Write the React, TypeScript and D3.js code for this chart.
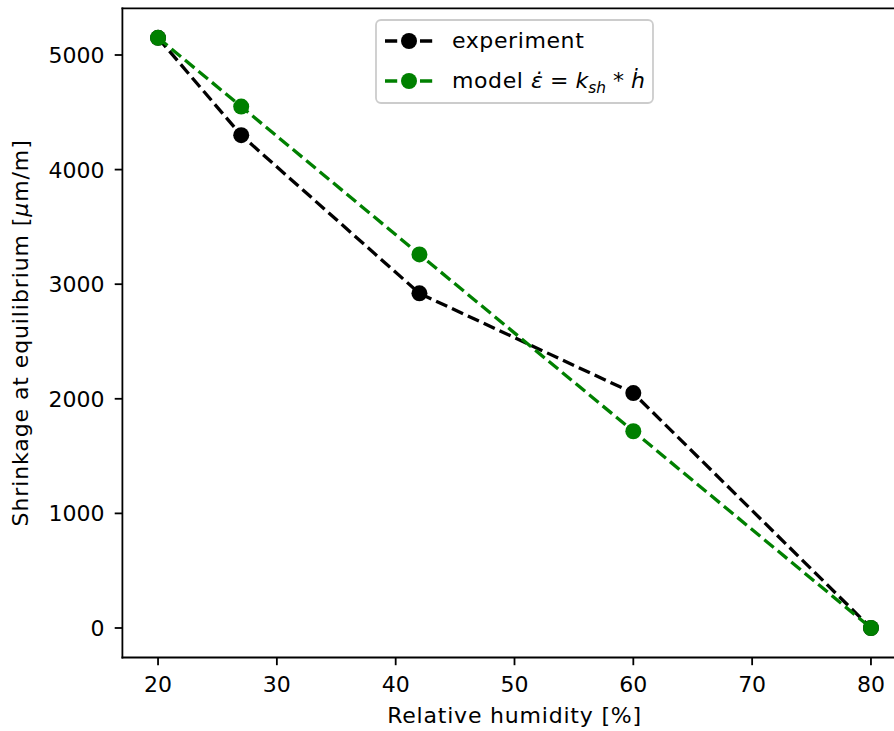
import React from "react";
import * as d3 from "d3";

const humidity = [20, 27, 42, 60, 80];
const experiment = [5150, 4300, 2920, 2050, 0];
const model = [5150, 4550, 3260, 1717, 0];
const xTicks = [20, 30, 40, 50, 60, 70, 80];
const yTicks = [0, 1000, 2000, 3000, 4000, 5000];

const W = 894;
const H = 731;
const FONT = "'DejaVu Sans', sans-serif";
const FS = 22;

export default function App() {
  const x = d3.scaleLinear().domain([17, 83]).range([122.4, 906.6]);
  const y = d3.scaleLinear().domain([-257.5, 5407.5]).range([657.5, 8.3]);
  const left = 122.4;
  const right = 906.6;
  const top = 8.3;
  const bottom = 657.5;

  const line = d3
    .line<[number, number]>()
    .x((d) => x(d[0]))
    .y((d) => y(d[1]));

  const series = [
    { name: "experiment", values: experiment, color: "#000000" },
    { name: "model", values: model, color: "#008000" },
  ];

  const lw = 3.3;
  const dash = `${3.7 * lw} ${1.6 * lw}`;

  return (
    <svg
      width={W}
      height={H}
      style={{ position: "absolute", left: 0, top: 0, background: "#fff" }}
      fontFamily={FONT}
    >
      <rect x={0} y={0} width={W} height={H} fill="#fff" />

      {/* series */}
      {series.map((s) => {
        const pts = humidity.map((h, i) => [h, s.values[i]] as [number, number]);
        return (
          <g key={s.name}>
            <path
              d={line(pts) || ""}
              fill="none"
              stroke={s.color}
              strokeWidth={lw}
              strokeDasharray={dash}
            />
            {pts.map((p, i) => (
              <circle key={i} cx={x(p[0])} cy={y(p[1])} r={8} fill={s.color} />
            ))}
          </g>
        );
      })}

      {/* spines */}
      <g stroke="#000" strokeWidth={1.8} fill="none">
        <line x1={left} x2={left} y1={top} y2={bottom} strokeLinecap="square" />
        <line x1={left} x2={right} y1={bottom} y2={bottom} strokeLinecap="square" />
        <line x1={left} x2={right} y1={top} y2={top} strokeLinecap="square" />
        <line x1={right} x2={right} y1={top} y2={bottom} />
      </g>

      {/* x ticks */}
      {xTicks.map((t) => (
        <g key={t}>
          <line x1={x(t)} x2={x(t)} y1={bottom} y2={bottom + 7.7} stroke="#000" strokeWidth={1.8} />
          <text x={x(t)} y={692} textAnchor="middle" fontSize={FS} fill="#000">
            {t}
          </text>
        </g>
      ))}

      {/* y ticks */}
      {yTicks.map((t) => (
        <g key={t}>
          <line x1={left - 7.7} x2={left} y1={y(t)} y2={y(t)} stroke="#000" strokeWidth={1.8} />
          <text
            x={left - 18}
            y={y(t)}
            dy="0.36em"
            textAnchor="end"
            fontSize={FS}
            fill="#000"
          >
            {t}
          </text>
        </g>
      ))}

      {/* axis labels */}
      <text
        x={(left + right) / 2}
        y={723}
        textAnchor="middle"
        fontSize={FS}
        letterSpacing={0.8}
        fill="#000"
      >
        Relative humidity [%]
      </text>
      <text
        transform={`translate(28, ${(top + bottom) / 2}) rotate(-90)`}
        textAnchor="middle"
        fontSize={FS}
        letterSpacing={0.9}
        fill="#000"
      >
        Shrinkage at equilibrium [<tspan fontStyle="italic">μ</tspan>m/m]
      </text>

      {/* legend */}
      <g>
        <rect
          x={376}
          y={20}
          width={277}
          height={83}
          rx={5}
          fill="#fff"
          fillOpacity={0.8}
          stroke="#cccccc"
          strokeWidth={1.8}
        />
        {series.map((s, i) => {
          const cy = 41 + i * 40;
          return (
            <g key={s.name}>
              <line
                x1={385}
                x2={433}
                y1={cy}
                y2={cy}
                stroke={s.color}
                strokeWidth={lw}
                strokeDasharray={dash}
              />
              <circle cx={409} cy={cy} r={8} fill={s.color} />
            </g>
          );
        })}
        <text x={452} y={48} fontSize={FS} letterSpacing={0.6} fill="#000">
          experiment
        </text>
        <text x={452} y={88} fontSize={FS} fill="#000">
          <tspan letterSpacing={0.6}>model </tspan>
          <tspan fontStyle="italic">{"\u03B5\u0307"}</tspan>
          <tspan>{" = "}</tspan>
          <tspan fontStyle="italic">k</tspan>
          <tspan fontStyle="italic" fontSize={FS * 0.7} dy={5}>
            sh
          </tspan>
          <tspan dy={-5}>{" * "}</tspan>
          <tspan fontStyle="italic">{"\u1E23"}</tspan>
        </text>
      </g>
    </svg>
  );
}
